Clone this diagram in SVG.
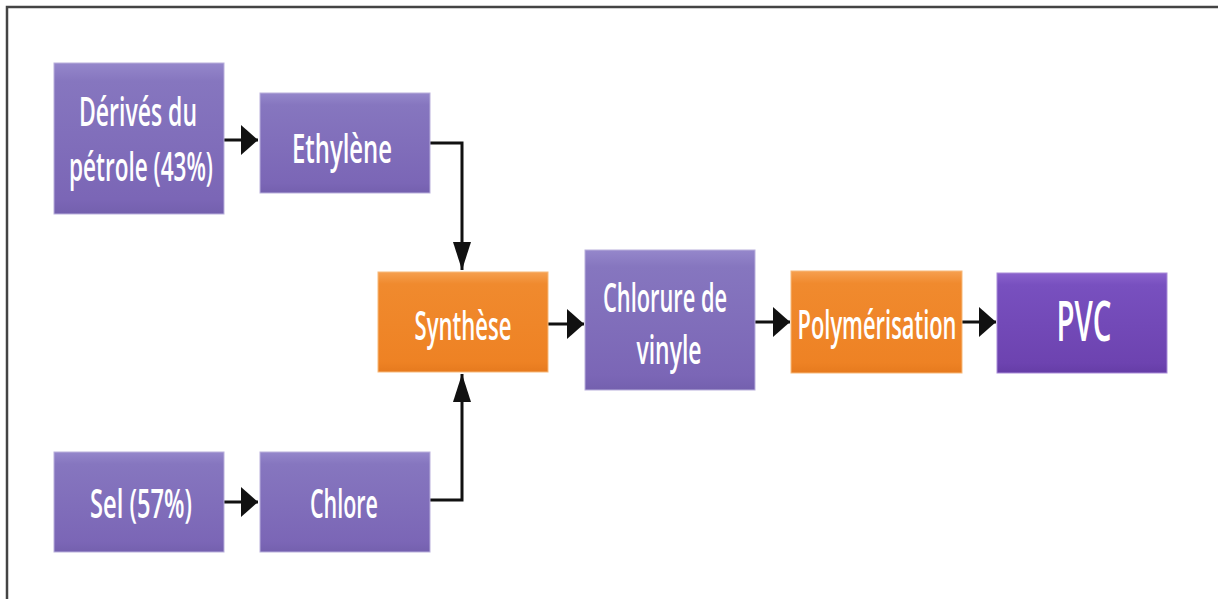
<svg xmlns="http://www.w3.org/2000/svg" width="1218" height="599" viewBox="0 0 1218 599">
<defs>
<linearGradient id="gp" x1="0" y1="0" x2="0" y2="1">
<stop offset="0" stop-color="#9587cb"/>
<stop offset="0.12" stop-color="#8676bf"/>
<stop offset="0.9" stop-color="#7b66b6"/>
<stop offset="1" stop-color="#7460ae"/>
</linearGradient>
<linearGradient id="gv" x1="0" y1="0" x2="0" y2="1">
<stop offset="0" stop-color="#8a62cc"/>
<stop offset="0.12" stop-color="#7850bf"/>
<stop offset="0.9" stop-color="#6d43b0"/>
<stop offset="1" stop-color="#653da6"/>
</linearGradient>
<linearGradient id="go" x1="0" y1="0" x2="0" y2="1">
<stop offset="0" stop-color="#f6a050"/>
<stop offset="0.12" stop-color="#f08a2e"/>
<stop offset="0.9" stop-color="#ee8224"/>
<stop offset="1" stop-color="#e67a1e"/>
</linearGradient>
<marker id="ah" markerUnits="userSpaceOnUse" markerWidth="17" markerHeight="30" refX="17" refY="15" orient="auto">
<path d="M0,0 L17,15 L0,30 z" fill="#111"/>
</marker>
<marker id="av" markerUnits="userSpaceOnUse" markerWidth="28" markerHeight="18" refX="28" refY="9" orient="auto">
<path d="M0,0 L28,9 L0,18 z" fill="#111"/>
</marker>
</defs>
<style>
.bp{fill:url(#gp);stroke:#b9b0dc;stroke-width:1}
.bv{fill:url(#gv);stroke:#a98cd8;stroke-width:1}
.bo{fill:url(#go);stroke:#f7b97a;stroke-width:1}
.t{font-family:"Open Sans","Liberation Sans",sans-serif;font-weight:600;font-size:40px;fill:#ffffff;text-anchor:middle}
.c{fill:none;stroke:#111;stroke-width:3}
</style>
<rect width="1218" height="599" fill="#ffffff"/>
<path d="M7,599 V7 H1218" fill="none" stroke="#444" stroke-width="2.5"/>
<g id="connectors">
<path class="c" d="M224,140 H258" marker-end="url(#ah)"/>
<path class="c" d="M430,143 H462 V270" marker-end="url(#av)"/>
<path class="c" d="M430,500 H462 V374" marker-end="url(#av)"/>
<path class="c" d="M224,502 H258" marker-end="url(#ah)"/>
<path class="c" d="M548,324 H584" marker-end="url(#ah)"/>
<path class="c" d="M755,322 H790" marker-end="url(#ah)"/>
<path class="c" d="M962,322 H996" marker-end="url(#ah)"/>
</g>
<g id="derives">
<rect class="bp" x="54" y="63" width="170" height="151"/>
<text class="t" x="138" y="126" textLength="118" lengthAdjust="spacingAndGlyphs">Dérivés du</text>
<text class="t" x="141" y="181" textLength="144" lengthAdjust="spacingAndGlyphs">pétrole (43%)</text>
</g>
<g id="ethylene">
<rect class="bp" x="260" y="93" width="170" height="100"/>
<text class="t" x="342" y="163" textLength="100" lengthAdjust="spacingAndGlyphs">Ethylène</text>
</g>
<g id="sel">
<rect class="bp" x="54" y="452" width="170" height="100"/>
<text class="t" x="141" y="518" textLength="102" lengthAdjust="spacingAndGlyphs">Sel (57%)</text>
</g>
<g id="chlore">
<rect class="bp" x="260" y="452" width="170" height="100"/>
<text class="t" x="344" y="518" textLength="68" lengthAdjust="spacingAndGlyphs">Chlore</text>
</g>
<g id="synthese">
<rect class="bo" x="378" y="272" width="170" height="100"/>
<text class="t" x="463" y="340" textLength="97" lengthAdjust="spacingAndGlyphs">Synthèse</text>
</g>
<g id="chlorure">
<rect class="bp" x="585" y="250" width="170" height="140"/>
<text class="t" x="665" y="312" textLength="124" lengthAdjust="spacingAndGlyphs">Chlorure de</text>
<text class="t" x="669" y="364" textLength="65" lengthAdjust="spacingAndGlyphs">vinyle</text>
</g>
<g id="polymerisation">
<rect class="bo" x="791" y="271" width="171" height="102"/>
<text class="t" x="877" y="339" textLength="159" lengthAdjust="spacingAndGlyphs">Polymérisation</text>
</g>
<g id="pvc">
<rect class="bv" x="997" y="273" width="170" height="100"/>
<text class="t" x="1084" y="341" style="font-size:56px" textLength="55" lengthAdjust="spacingAndGlyphs">PVC</text>
</g>
</svg>
